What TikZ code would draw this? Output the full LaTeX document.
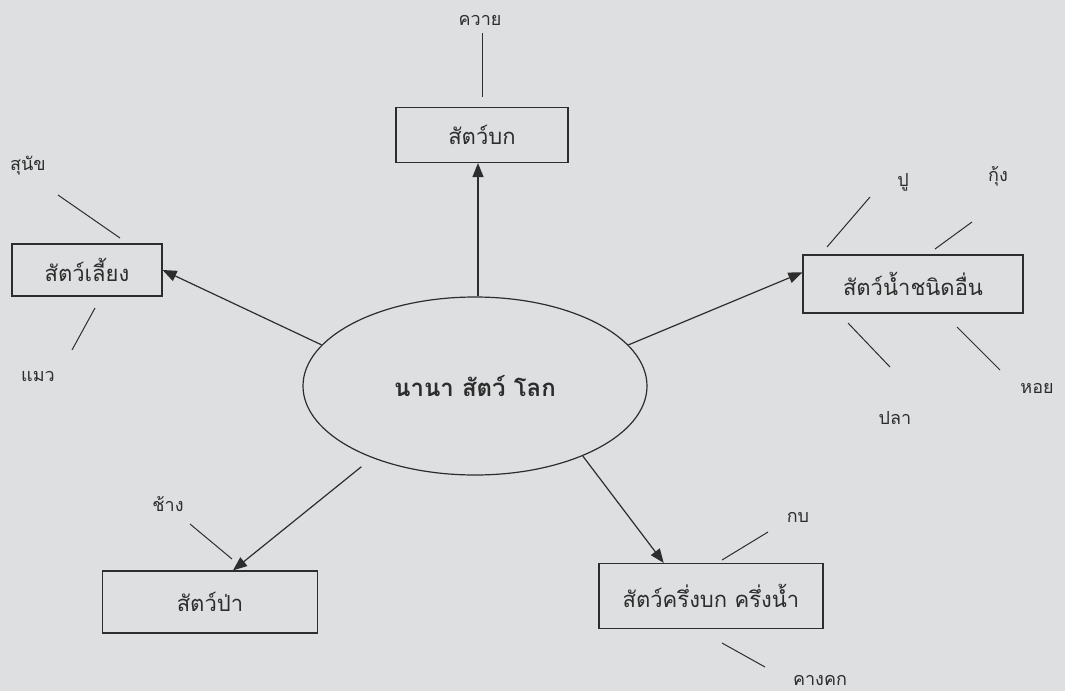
\documentclass[tikz,border=0pt]{standalone}
\usepackage{fontspec}
\newfontfamily\thaifont[Script=Thai]{Loma}
\usetikzlibrary{arrows.meta,shapes.geometric,positioning}
\definecolor{paper}{RGB}{222,223,224}
\definecolor{ink}{RGB}{45,45,45}
\tikzset{
	hub_node/.style = {ellipse, draw=ink, line width=1.2pt, minimum width=344pt,
		minimum height=178pt, inner sep=0pt, text=ink,
		font=\thaifont\bfseries\fontsize{24}{28}\selectfont},% central ellipse
	cat_box/.style = {rectangle, draw=ink, line width=1.2pt, inner sep=0pt,
		text=ink, font=\thaifont\fontsize{22}{26}\selectfont},% category box
	leaf/.style = {inner sep=1pt, text=ink,
		font=\thaifont\fontsize{18}{21}\selectfont},% animal name
	twig/.style = {-, draw=ink, line width=1pt}% short stroke near a box
}

\begin{document}
\begin{tikzpicture}[x=1pt, y=-1pt, ->, >={Triangle[length=14pt,width=11pt]},
	draw=ink, line width=1.2pt]
\fill[paper] (0,0) rectangle (1065,691);
\useasboundingbox (0,0) rectangle (1065,691);
% centre and categories
\node [hub_node] (hub) at (475,386) {นานา สัตว์ โลก};
\node [cat_box, minimum width=172pt, minimum height=55pt] (land) at (482,135) {สัตว์บก};
\node [cat_box, minimum width=150pt, minimum height=52pt] (pets) at (87,270) {สัตว์เลี้ยง};
\node [cat_box, minimum width=220pt, minimum height=58pt] (water) at (913,284) {สัตว์น้ำชนิดอื่น};
\node [cat_box, minimum width=215pt, minimum height=62pt] (wild) at (210,602) {สัตว์ป่า};
\node [cat_box, minimum width=224pt, minimum height=65pt] (amphib) at (711,596) {สัตว์ครึ่งบก ครึ่งน้ำ};
% animal names
\node [leaf] (buffalo) at (480,20) {ควาย};
\node [leaf] (dog) at (28,166) {สุนัข};
\node [leaf] (cat) at (38,376) {แมว};
\node [leaf] (crab) at (903,182) {ปู};
\node [leaf] (shrimp) at (998,176) {กุ้ง};
\node [leaf] (fish) at (895,418) {ปลา};
\node [leaf] (shell) at (1037,388) {หอย};
\node [leaf] (elephant) at (168,504) {ช้าง};
\node [leaf] (frog) at (798,517) {กบ};
\node [leaf] (toad) at (820,680) {คางคก};
% arrows from the centre
\draw ([xshift=3pt]hub.north) -- ([xshift=3pt]hub.north |- land.south);
\draw (hub.165) -- (pets.east);
\draw (hub.15) -- (water.174);
\draw [shorten <=14pt] (hub.215) -- (wild.54);
\draw (hub.327) -- (amphib.145);
% strokes beside the boxes
\coordinate (buffalo_a) at (482,33);   \coordinate (buffalo_b) at (482,97);
\coordinate (dog_a) at (58,195);       \coordinate (dog_b) at (120,238);
\coordinate (cat_a) at (72,350);       \coordinate (cat_b) at (95,308);
\coordinate (crab_a) at (870,197);     \coordinate (crab_b) at (827,247);
\coordinate (shrimp_a) at (972,222);   \coordinate (shrimp_b) at (935,249);
\coordinate (fish_a) at (890,367);     \coordinate (fish_b) at (848,323);
\coordinate (shell_a) at (1000,370);   \coordinate (shell_b) at (957,327);
\coordinate (elephant_a) at (190,524); \coordinate (elephant_b) at (232,559);
\coordinate (frog_a) at (768,532);     \coordinate (frog_b) at (722,560);
\coordinate (toad_a) at (765,667);     \coordinate (toad_b) at (722,643);
\draw [twig] (buffalo_a) -- (buffalo_b);
\draw [twig] (dog_a) -- (dog_b);
\draw [twig] (cat_a) -- (cat_b);
\draw [twig] (crab_a) -- (crab_b);
\draw [twig] (shrimp_a) -- (shrimp_b);
\draw [twig] (fish_a) -- (fish_b);
\draw [twig] (shell_a) -- (shell_b);
\draw [twig] (elephant_a) -- (elephant_b);
\draw [twig] (frog_a) -- (frog_b);
\draw [twig] (toad_a) -- (toad_b);
\end{tikzpicture}
\end{document}
